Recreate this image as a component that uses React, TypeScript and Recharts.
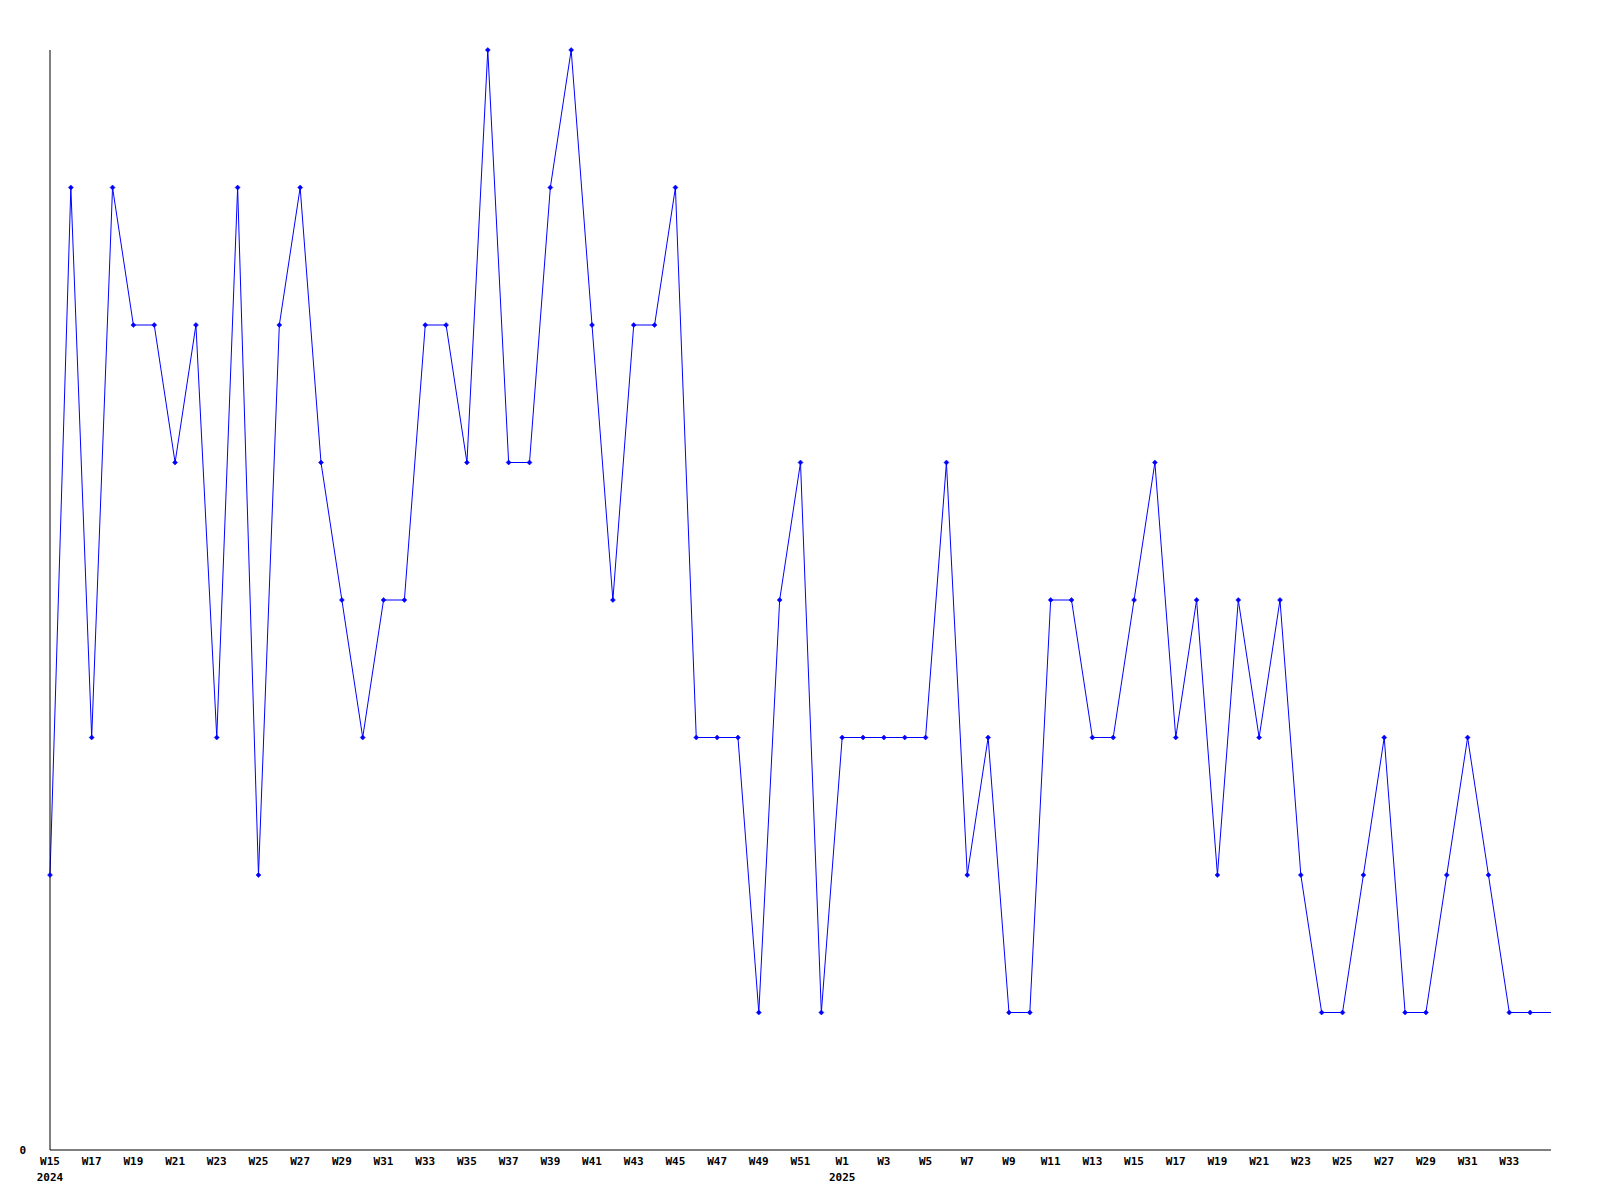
import React from 'react'
import { LineChart, Line, XAxis, YAxis } from 'recharts'

// weekly counts, W15 2024 .. W35 2025
const weeks = [
  'W15', 'W16', 'W17', 'W18', 'W19', 'W20', 'W21', 'W22', 'W23', 'W24', 'W25', 'W26', 'W27', 'W28', 'W29', 'W30',
  'W31', 'W32', 'W33', 'W34', 'W35', 'W36', 'W37', 'W38', 'W39', 'W40', 'W41', 'W42', 'W43', 'W44', 'W45', 'W46',
  'W47', 'W48', 'W49', 'W50', 'W51', 'W52',
  'W1', 'W2', 'W3', 'W4', 'W5', 'W6', 'W7', 'W8', 'W9', 'W10', 'W11', 'W12', 'W13', 'W14', 'W15', 'W16',
  'W17', 'W18', 'W19', 'W20', 'W21', 'W22', 'W23', 'W24', 'W25', 'W26', 'W27', 'W28', 'W29', 'W30', 'W31', 'W32',
  'W33', 'W34', 'W35',
]
const yearStarts: Record<number, string> = { 0: '2024', 38: '2025' }
const counts = [
  2, 7, 3, 7, 6, 6, 5, 6, 3, 7, 2, 6, 7, 5, 4, 3,
  4, 4, 6, 6, 5, 8, 5, 5, 7, 8, 6, 4, 6, 6, 7, 3,
  3, 3, 1, 4, 5, 1,
  3, 3, 3, 3, 3, 5, 2, 3, 1, 1, 4, 4, 3, 3, 4, 5,
  3, 4, 2, 4, 3, 4, 2, 1, 1, 2, 3, 1, 1, 2, 3, 2,
  1, 1, 1,
]
const labelTicks = weeks.map((_, i) => i).filter(i => i % 2 === 0 && i < 72)

const data = counts.map((v, i) => ({ i, week: weeks[i], value: v }))

const FONT = '"DejaVu Sans Mono", monospace'

const WeekTick = (props: any) => {
  const { x, y, payload } = props
  const idx = payload.value as number
  const year = yearStarts[idx]
  return (
    <g>
      <text x={x} y={y + 7} textAnchor="middle" fontFamily={FONT} fontSize={11} fontWeight="bold" fill="#000">
        {weeks[idx]}
      </text>
      {year && (
        <text x={x} y={y + 23} textAnchor="middle" fontFamily={FONT} fontSize={11} fontWeight="bold" fill="#000">
          {year}
        </text>
      )}
    </g>
  )
}

const Marker = (props: any) => {
  const { cx, cy, index } = props
  if (index === counts.length - 1 || cx == null) return <g key={`d-${index}`} />
  return (
    <path
      key={`d-${index}`}
      d={`M${cx - 2.5},${cy} L${cx},${cy - 2.5} L${cx + 2.5},${cy} L${cx},${cy + 2.5} Z`}
      fill="#0000ff"
      stroke="#0000ff"
      strokeWidth={0.5}
    />
  )
}

export default function App() {
  return (
    <div style={{ position: 'absolute', left: 0, top: 0, width: 1600, height: 1200, background: '#fff' }}>
      <LineChart width={1600} height={1200} data={data} margin={{ top: 50, right: 49, bottom: 0, left: 0 }}>
        <XAxis
          dataKey="i"
          type="number"
          domain={[0, 72]}
          ticks={labelTicks}
          interval={0}
          tick={<WeekTick />}
          tickLine={false}
          axisLine={{ stroke: '#000', strokeWidth: 1 }}
          height={50}
        />
        <YAxis
          type="number"
          domain={[0, 8]}
          ticks={[0]}
          width={50}
          tickLine={false}
          axisLine={{ stroke: '#000', strokeWidth: 1 }}
          tick={{ fontFamily: FONT, fontSize: 11, fontWeight: 'bold', fill: '#000' }}
          tickMargin={18}
        />
        <Line
          type="linear"
          dataKey="value"
          stroke="#0000ff"
          strokeWidth={1}
          dot={<Marker />}
          activeDot={false}
          isAnimationActive={false}
        />
      </LineChart>
    </div>
  )
}
